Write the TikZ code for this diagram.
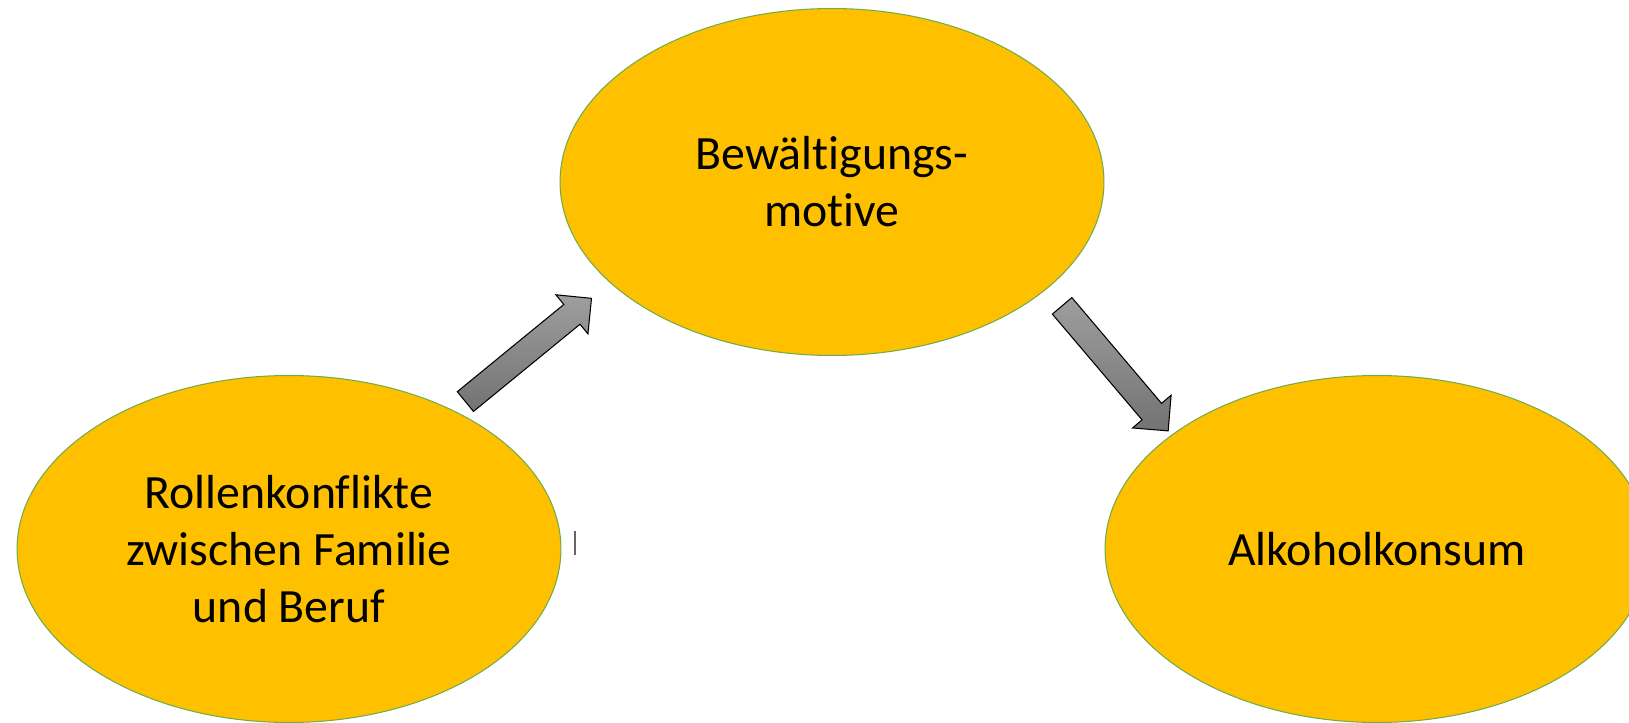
\documentclass[tikz,border=0pt]{standalone}
\usepackage{fontspec}
\setmainfont[Ligatures={NoCommon}]{Carlito}
\usetikzlibrary{shapes.geometric,shapes.arrows}
\definecolor{gold}{HTML}{FFC000}
\definecolor{rimgreen}{HTML}{70AD47}

\begin{document}
\begin{tikzpicture}[x=0.02cm,y=0.02cm,
    factor/.style={draw=rimgreen,
        line width=0.6pt,
        ellipse,
        fill=gold,
        inner sep=0pt,
        minimum width=10.88cm,
        minimum height=6.94cm,
        align=center,
        font=\fontsize{27.2}{32.4}\selectfont},
    blockarrow/.style={draw=black,
        line width=0.6pt,
        single arrow,
        inner xsep=0pt,
        inner ysep=0.245cm,
        minimum width=0pt,
        single arrow head extend=0.25cm,
        single arrow tip angle=90,
        top color=black!38,
        bottom color=black!55}]

\useasboundingbox (0,0) rectangle (1629,723);

% Ellipses
\node[factor] (motive) at (832,541) {Bewältigungs-\\motive};
\node[factor] (konflikt) at (289,174) {Rollenkonflikte\\zwischen Familie\\und Beruf};
\node[factor] (alkohol) at (1377,174) {Alkoholkonsum};

% Block arrows between the ellipses
\node[blockarrow, rotate=39.3, minimum height=3.26cm] (pfeil1) at (523.5,369) {};
\node[blockarrow, rotate=-49.7, minimum height=3.28cm] (pfeil2) at (1111,359.5) {};

% small stray mark
\draw[gray!80!black, line width=0.7pt] (575,192) -- (575,168);

\end{tikzpicture}
\end{document}
